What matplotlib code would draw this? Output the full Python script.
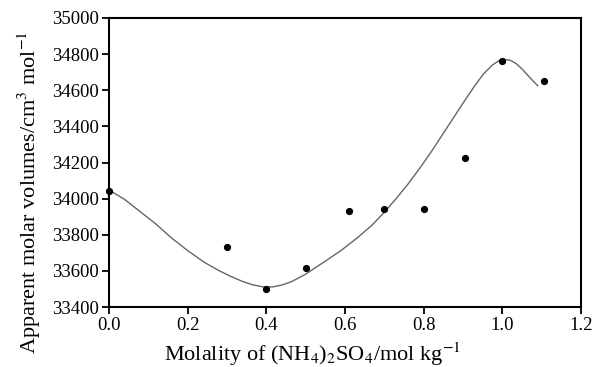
import matplotlib
matplotlib.use("Agg")
import matplotlib.pyplot as plt

# measured data points
molality = [0.0, 0.3, 0.4, 0.5, 0.61, 0.7, 0.8, 0.905, 1.0, 1.105]
volume = [34040, 33730, 33500, 33615, 33930, 33940, 33945, 34225, 34760, 34650]

# fitted curve, points
curve_x = [0.0, 0.04, 0.074, 0.12, 0.158, 0.2, 0.242, 0.28, 0.31, 0.34, 0.365, 0.39, 0.415, 0.44,
           0.464, 0.5, 0.548, 0.59, 0.632, 0.67, 0.70, 0.73, 0.76, 0.79, 0.818, 0.86, 0.902,
           0.93, 0.952, 0.975, 0.99, 1.005, 1.02, 1.035, 1.05, 1.07, 1.09]
curve_y = [34048, 33995, 33937, 33858, 33784, 33712, 33648, 33601, 33569, 33541, 33523, 33512, 33511, 33522,
           33540, 33582, 33651, 33713, 33784, 33856, 33925, 34000, 34080, 34168, 34255, 34395, 34535,
           34625, 34690, 34740, 34762, 34771, 34766, 34748, 34718, 34670, 34625]

xticks = [0.0, 0.2, 0.4, 0.6, 0.8, 1.0, 1.2]
yticks = [33400, 33600, 33800, 34000, 34200, 34400, 34600, 34800, 35000]

plt.rcParams['font.family'] = ['Liberation Serif', 'DejaVu Serif']
plt.rcParams['mathtext.fontset'] = 'stix'

fig = plt.figure(figsize=(5.94, 3.67), dpi=100)
ax = fig.add_axes([109/594, 1 - 307/367, (581-109)/594, (307-18)/367])

ax.plot(curve_x, curve_y, color='#666666', lw=1.0, solid_joinstyle='round')
ax.plot(molality, volume, 'o', color='black', markersize=4.2, clip_on=False, zorder=5)

ax.set_xlim(0, 1.2)
ax.set_ylim(33400, 35000)
ax.set_xticks(xticks)
ax.set_xticklabels([f"{t:.1f}" for t in xticks])
ax.set_yticks(yticks)
ax.tick_params(direction='out', length=5, width=1.3, labelsize=13.5, pad=2)
for s in ax.spines.values():
    s.set_linewidth(1.5)

ax.set_xlabel(r'Molality of (NH$_4$)$_2$SO$_4$/mol kg$^{-1}$', fontsize=16)
ax.xaxis.set_label_coords(0.43, -0.115)
ax.set_ylabel(r'Apparent molar volumes/cm$^{3}$ mol$^{-1}$', fontsize=16)
ax.yaxis.set_label_coords(-0.14, 0.395)

fig.savefig('out.png', dpi=100)
